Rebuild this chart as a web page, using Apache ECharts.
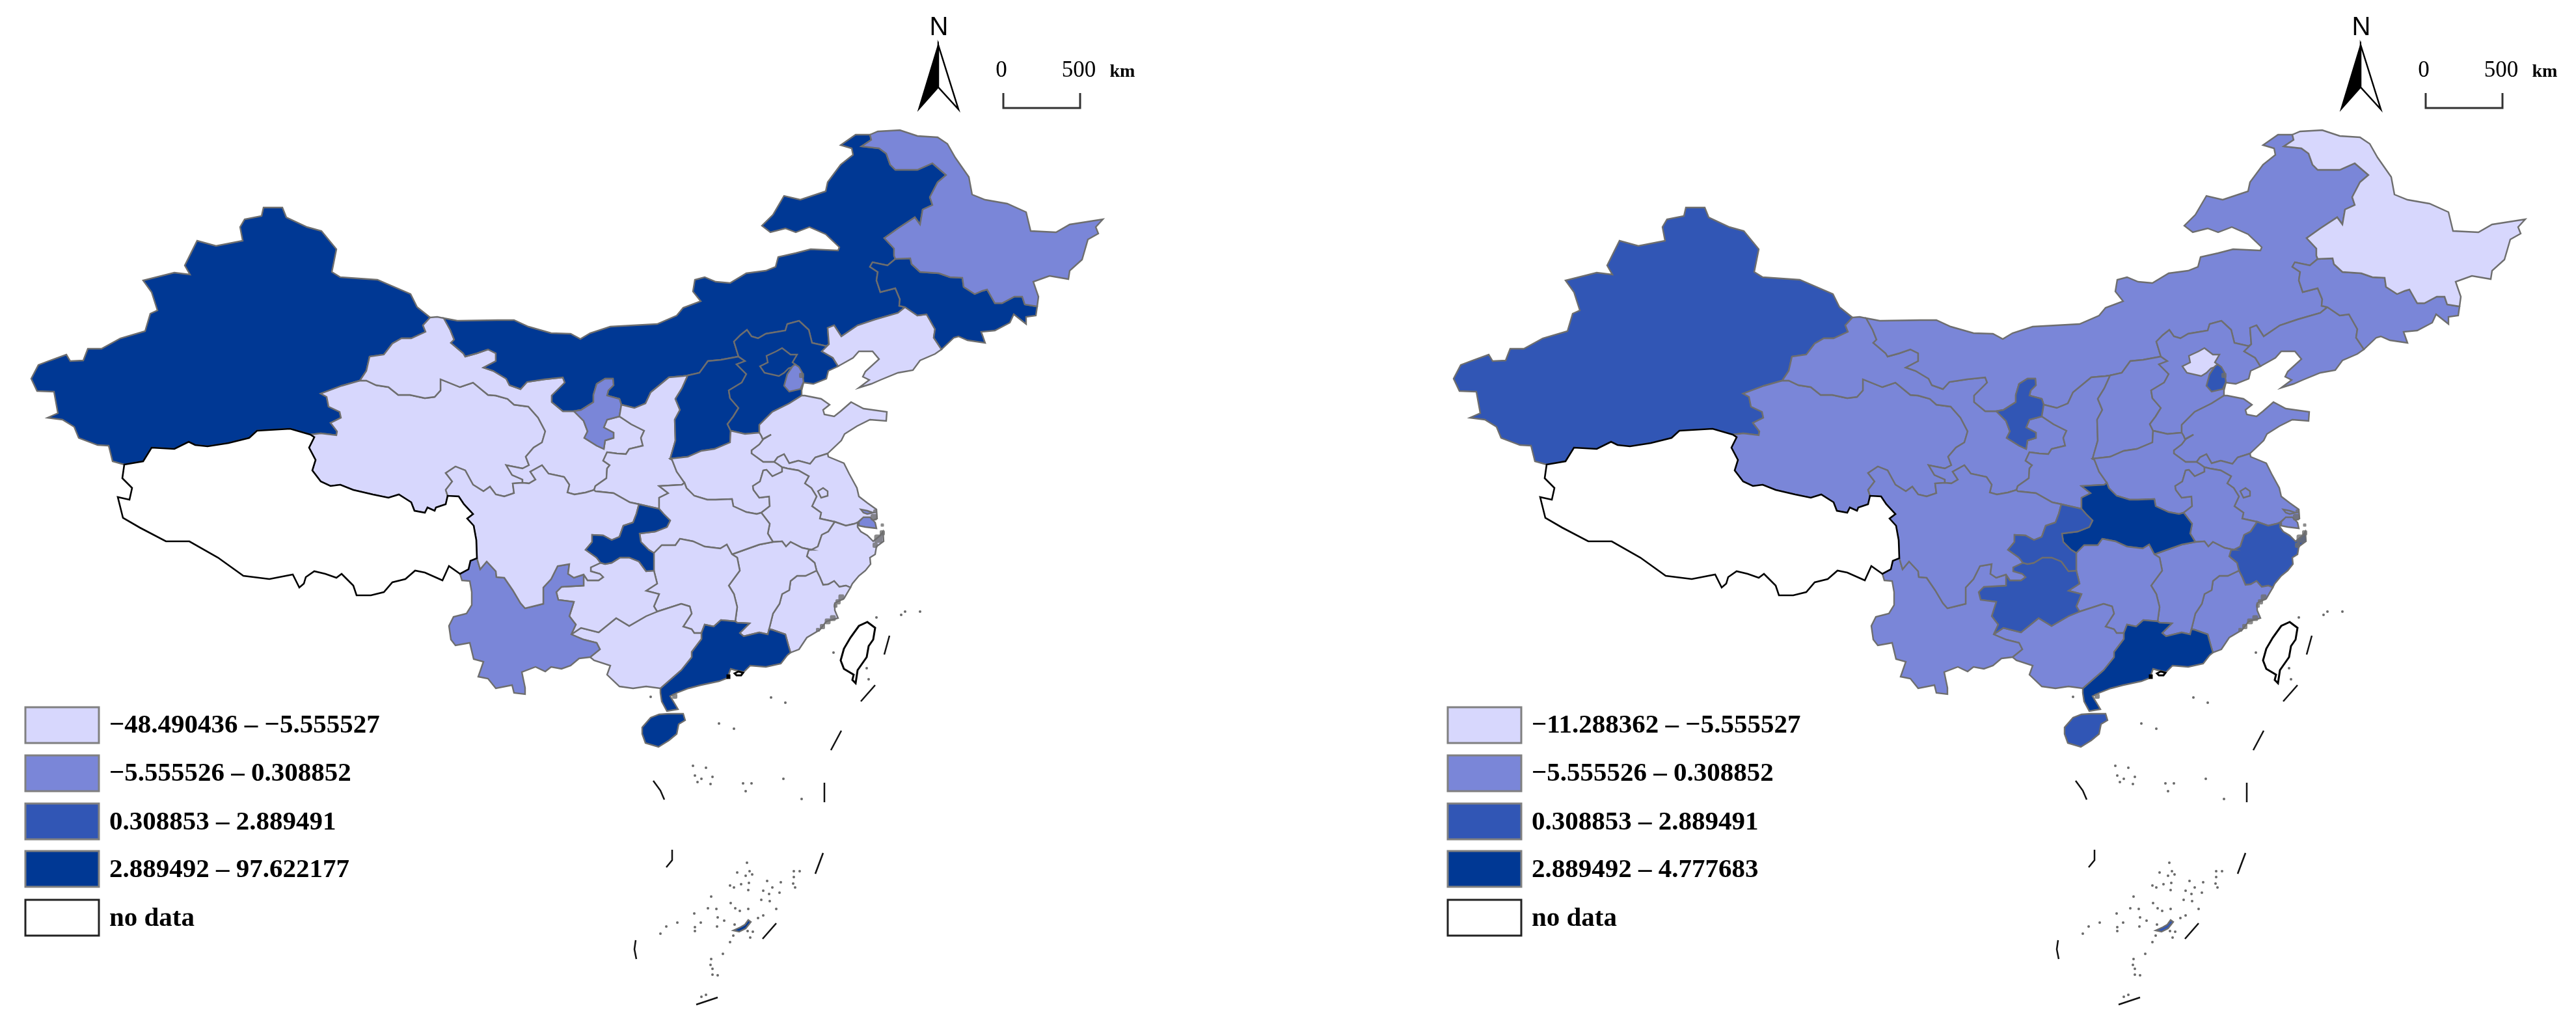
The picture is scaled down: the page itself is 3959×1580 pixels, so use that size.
<!DOCTYPE html>
<html>
<head>
<meta charset="utf-8">
<style>html,body{margin:0;padding:0;background:#fff}#chart{width:3959px;height:1580px}</style>
<script src="https://cdn.jsdelivr.net/npm/echarts@6/dist/echarts.min.js"></script>
</head>
<body>
<div id="chart"></div>
<script>
// class of each province on the two maps (0-3 = legend row, null = no data)
const provinces = ['Xinjiang','Qinghai','Gansu','Inner Mongolia','Ningxia','Shaanxi','Shanxi','Hebei','Beijing','Tianjin','Liaoning','Jilin','Heilongjiang','Shandong','Henan','Jiangsu','Shanghai','Anhui','Zhejiang','Fujian','Jiangxi','Hubei','Hunan','Guangdong','Guangxi','Hainan','Guizhou','Yunnan','Sichuan','Chongqing','Tibet','Taiwan','Hong Kong','Macau']
const classLeft  = [3,0,0,3,1,0,3,3,3,1,0,3,1,0,0,0,1,0,0,0,0,0,0,3,0,3,0,1,0,3,null,null,null,null]
const classRight = [2,1,1,1,2,1,1,1,0,2,1,1,0,1,1,1,1,1,2,1,1,3,1,3,1,2,2,1,1,2,null,null,null,null]

const classColors = ['#d7d7fd','#7a86d8','#3156b5','#003894']
const labelsLeft  = ['−48.490436 – −5.555527','−5.555526 – 0.308852','0.308853 – 2.889491','2.889492 – 97.622177','no data']
const labelsRight = ['−11.288362 – −5.555527','−5.555526 – 0.308852','0.308853 – 2.889491','2.889492 – 4.777683','no data']

// shared borders, in sheet units (y down), one arc per border so neighbours line up
const arcs = {
  xjN:[[191,714],[173,709],[167,685],[150,684],[121,673],[114,656],[96,645],[73,642],[89,635],[83,602],[57,601],[48,582],[59,561],[77,554],[102,545],[108,555],[128,554],[135,536],[156,536],[185,520],[223,509],[231,482],[242,477],[233,449],[220,431],[268,419],[292,422],[284,408],[303,370],[332,378],[373,370],[369,349],[376,337],[402,332],[405,319],[434,319],[440,334],[472,349],[494,355],[517,383],[510,418],[523,426],[580,430],[631,452],[641,472],[661,488]],
  xg:[[661,488],[650,500],[654,510],[632,520],[617,520],[603,528],[590,545],[568,548],[563,570],[553,585]],
  xq:[[553,585],[525,593],[493,605],[502,610],[505,625],[522,633],[524,642],[508,650],[518,663],[517,669],[493,666],[477,668]],
  xt:[[477,668],[446,659],[395,662],[383,673],[351,681],[319,686],[300,684],[290,679],[268,690],[233,688],[220,709],[191,714]],
  tq:[[688,762],[685,775],[670,780],[668,785],[657,780],[653,788],[637,785],[632,772],[613,760],[597,765],[573,760],[543,753],[523,745],[508,747],[493,740],[480,723],[485,707],[475,688],[483,672],[477,668]],
  ts:[[733,858],[732,830],[728,808],[718,797],[727,790],[713,775],[705,763],[688,762]],
  ty:[[707,882],[720,875],[723,862],[733,858]],
  tS:[[191,714],[188,735],[203,750],[199,768],[181,764],[189,796],[215,811],[255,832],[291,832],[335,857],[374,885],[414,890],[450,883],[460,903],[467,897],[470,887],[483,878],[500,882],[517,888],[525,882],[533,890],[543,900],[548,915],[570,915],[590,910],[603,895],[623,890],[638,877],[653,880],[680,892],[690,870],[707,882]],
  qs:[[688,762],[685,753],[695,740],[685,727],[700,717],[715,723],[727,745],[743,755],[753,748],[762,760],[775,763],[790,758],[788,743],[803,742]],
  gq:[[553,585],[563,585],[578,592],[597,595],[612,607],[630,607],[653,612],[668,610],[677,600],[677,583],[707,595],[727,588],[750,607],[762,608],[780,613],[790,622],[812,625],[827,642],[838,663],[833,680],[820,688],[808,702],[813,715],[803,720],[778,715],[787,730],[803,737],[803,742]],
  sg:[[803,742],[813,743],[823,737],[815,725],[833,715],[843,728],[867,733],[875,745],[872,757],[883,760],[900,757],[913,753]],
  gsn:[[913,753],[915,747],[932,735],[933,720],[937,715],[927,708],[933,695],[948,697],[962,698],[967,690],[988,685],[985,673],[990,662],[970,652],[952,640]],
  gn:[[882,632],[897,647],[903,663],[898,673],[917,685],[928,690],[930,677],[943,673],[943,665],[928,657],[933,645],[952,640]],
  nI:[[882,632],[893,630],[912,618],[912,607],[917,590],[930,582],[942,582],[943,592],[935,600],[933,608],[952,613],[955,622]],
  nS:[[955,622],[952,640]],
  gi0:[[661,488],[672,487],[682,489]],
  gi:[[682,489],[692,507],[698,522],[693,527],[712,543],[715,548],[733,543],[750,537],[762,543],[762,555],[743,565],[758,570],[778,582],[783,592],[800,598],[810,587],[837,583],[865,580],[868,588],[848,608],[848,618],[865,632],[882,632]],
  imN:[[682,489],[703,493],[765,492],[790,492],[812,502],[847,512],[877,513],[892,521],[907,512],[938,502],[1010,498],[1040,485],[1050,473],[1077,463],[1065,448],[1068,430],[1083,426],[1100,433],[1122,435],[1147,420],[1177,416],[1192,410],[1196,395],[1223,389],[1246,383],[1288,385],[1290,380],[1269,360],[1244,349],[1223,357],[1207,351],[1184,357],[1171,347],[1188,330],[1205,301],[1230,307],[1269,294],[1272,280],[1292,253],[1311,238],[1309,228],[1292,223],[1315,207],[1337,207]],
  ih:[[1337,207],[1339,215],[1324,225],[1351,228],[1362,236],[1368,253],[1376,261],[1410,261],[1433,251],[1454,269],[1441,280],[1429,303],[1433,315],[1418,322],[1414,345],[1406,334],[1380,351],[1359,366],[1374,382],[1374,393],[1376,398]],
  ij:[[1376,398],[1364,408],[1341,403],[1337,410],[1349,418],[1347,431],[1353,449],[1376,443],[1383,460],[1382,470],[1391,472]],
  il:[[1391,472],[1380,481],[1345,491],[1318,500],[1293,517],[1282,500],[1272,504],[1274,529]],
  ihb:[[1274,529],[1270,532],[1248,527],[1243,507],[1228,493],[1210,498],[1207,508],[1177,513],[1165,520],[1155,517],[1148,507],[1138,515],[1128,525],[1135,548]],
  isx:[[1135,548],[1108,553],[1088,555],[1075,573],[1057,577]],
  isn:[[955,622],[975,627],[992,620],[1000,603],[1028,580],[1050,578],[1057,577]],
  hlO:[[1337,207],[1349,202],[1383,200],[1410,209],[1441,211],[1456,221],[1468,242],[1489,272],[1494,299],[1514,307],[1548,313],[1577,326],[1584,355],[1623,357],[1644,345],[1695,337],[1684,349],[1688,359],[1672,368],[1663,399],[1644,416],[1642,429],[1613,424],[1588,433],[1596,456],[1594,471]],
  hj:[[1376,398],[1399,397],[1401,406],[1414,418],[1443,420],[1460,426],[1479,427],[1481,441],[1498,452],[1510,447],[1517,445],[1529,466],[1540,466],[1559,456],[1571,456],[1575,468],[1594,471]],
  jO:[[1594,471],[1592,485],[1577,487],[1577,498],[1558,483],[1552,496],[1529,508],[1508,510],[1514,527],[1487,523],[1473,517],[1466,519],[1447,537]],
  jl:[[1391,472],[1410,485],[1424,483],[1437,506],[1435,519],[1447,537]],
  hbl:[[1288,563],[1280,550],[1263,540],[1274,529]],
  lO:[[1288,563],[1311,550],[1320,540],[1341,540],[1351,552],[1330,571],[1326,579],[1336,584],[1320,596],[1339,590],[1353,584],[1380,573],[1403,569],[1414,554],[1437,544],[1447,537]],
  hbC:[[1288,563],[1273,570],[1270,582],[1250,590],[1235,588],[1232,600],[1232,608]],
  sh:[[1135,548],[1145,555],[1132,560],[1147,575],[1140,588],[1120,600],[1122,612],[1135,627],[1127,640],[1118,652],[1123,662]],
  hh:[[1123,662],[1145,667],[1167,665]],
  hs:[[1167,665],[1167,653],[1187,633],[1213,620],[1232,608]],
  sxh:[[1123,662],[1122,680],[1098,690],[1078,693],[1057,702],[1030,705]],
  ss:[[1057,577],[1048,597],[1038,613],[1045,630],[1037,645],[1038,677],[1030,705]],
  she:[[1030,705],[1033,707],[1040,725],[1052,742]],
  shb:[[1052,742],[1048,745],[1013,747],[1027,758],[1013,765],[1013,782]],
  scq:[[1013,782],[982,775]],
  ssn:[[913,753],[915,755],[943,758],[968,772],[982,775]],
  hsd:[[1167,665],[1170,670],[1172,675],[1185,668],[1173,675],[1167,683],[1155,692],[1155,697],[1173,710],[1190,710]],
  hj2:[[1190,710],[1195,713],[1202,718]],
  ha:[[1202,718],[1202,725],[1187,732],[1178,722],[1173,723],[1168,740],[1157,747],[1158,753],[1167,765],[1182,763],[1183,778],[1170,788]],
  hhb:[[1170,788],[1163,790],[1147,787],[1127,778],[1125,767],[1100,768],[1087,768],[1067,762],[1055,750],[1052,742]],
  sdO:[[1232,608],[1237,608],[1262,613],[1275,622],[1265,630],[1267,637],[1282,640],[1292,632],[1308,618],[1327,628],[1363,633],[1362,647],[1337,645],[1317,655],[1298,667],[1293,677],[1272,697]],
  sdj:[[1272,697],[1253,703],[1245,713],[1227,708],[1213,712],[1205,698],[1195,703],[1190,710]],
  jsO:[[1272,697],[1273,702],[1297,712],[1305,728],[1317,750],[1320,763],[1333,773],[1347,783],[1348,797],[1340,800],[1325,797],[1318,803]],
  jz:[[1283,802],[1300,808],[1313,805],[1318,803]],
  aj:[[1283,802],[1260,797],[1262,788],[1248,778],[1255,763],[1247,750],[1237,743],[1243,732],[1227,723],[1210,720],[1202,718]],
  hba:[[1170,788],[1183,805],[1180,820],[1188,833]],
  aJx:[[1188,833],[1202,832],[1208,840],[1215,833],[1233,842],[1247,845]],
  az:[[1247,845],[1257,840],[1263,822],[1273,817],[1283,802]],
  zO:[[1318,803],[1318,810],[1323,817],[1333,823],[1342,832],[1353,823],[1357,817],[1358,832],[1347,840],[1345,852],[1337,857],[1338,867],[1330,877],[1320,885],[1310,897],[1307,903]],
  zf:[[1307,903],[1300,900],[1290,902],[1282,893],[1273,898],[1265,899],[1260,887],[1255,877]],
  zj:[[1255,877],[1252,865],[1240,855],[1243,845],[1247,845]],
  fO:[[1215,1003],[1228,998],[1240,980],[1260,968],[1270,955],[1288,950],[1283,938],[1283,927],[1297,920],[1307,903]],
  fg:[[1182,967],[1187,968],[1207,975],[1212,993],[1215,1003]],
  jf:[[1255,877],[1238,885],[1225,885],[1215,893],[1213,907],[1202,913],[1198,928],[1188,943],[1182,967]],
  jg:[[1182,967],[1180,975],[1167,972],[1143,978],[1137,973],[1152,958],[1133,957],[1130,955]],
  hnj:[[1130,955],[1133,933],[1128,913],[1120,900],[1137,877],[1133,857],[1125,852]],
  hbj:[[1188,833],[1167,837],[1150,843],[1125,852]],
  hbh:[[1125,852],[1117,837],[1107,843],[1083,840],[1065,832],[1045,828],[1038,838],[1017,838],[1005,850]],
  chb:[[1013,782],[1020,790],[1030,800],[1025,810],[1007,817],[983,820],[985,833],[997,845],[1005,850]],
  chn:[[1005,850],[1005,877]],
  cg:[[1005,877],[993,878],[982,863],[967,857],[953,857],[940,865],[930,867],[923,865]],
  csi:[[923,865],[917,857],[900,845],[910,833],[910,822],[927,823],[940,830],[952,825],[958,808],[973,803],[978,790],[982,775]],
  sgz:[[923,865],[908,872],[908,878],[922,882],[927,887],[920,892],[903,892],[897,883]],
  sy:[[733,858],[738,875],[748,863],[762,878],[763,887],[775,888],[788,907],[800,927],[807,935],[827,930],[835,928],[835,903],[847,890],[857,870],[875,867],[873,882],[882,888],[897,883]],
  yz:[[897,883],[897,900],[863,902],[855,910],[858,922],[882,925],[875,947],[885,960],[878,975]],
  ggx:[[878,975],[893,965],[920,972],[947,950],[967,962],[993,947],[1010,940]],
  gh:[[1005,877],[1010,897],[993,908],[1013,913],[1005,932],[1010,940]],
  hgx:[[1010,940],[1047,928],[1060,932],[1063,943],[1050,963],[1063,967],[1067,973],[1078,973]],
  hg:[[1078,973],[1083,960],[1097,963],[1108,953],[1130,955]],
  gdO:[[1215,1003],[1210,1007],[1200,1020],[1177,1025],[1153,1023],[1143,1033],[1130,1030],[1123,1028],[1118,1042],[1105,1047],[1077,1053],[1058,1058],[1040,1065],[1030,1070],[1042,1090],[1025,1093],[1017,1078],[1015,1065],[1015,1058]],
  gg:[[1015,1058],[1047,1030],[1063,1010],[1063,1002],[1078,982],[1078,973]],
  gxO:[[907,1010],[913,1015],[938,1023],[933,1037],[952,1055],[973,1058],[993,1055],[1015,1058]],
  yg:[[878,975],[897,983],[917,988],[922,998],[907,1010]],
  yO:[[907,1010],[890,1012],[877,1023],[863,1028],[847,1025],[838,1032],[823,1025],[802,1033],[807,1057],[807,1067],[790,1065],[787,1053],[762,1058],[750,1043],[735,1040],[743,1017],[728,1013],[722,988],[700,992],[693,983],[690,962],[697,948],[717,943],[725,930],[725,910],[722,893],[710,892],[707,882]]
}

// which borders close each province; a leading - walks the arc backwards
const rings = {
  'Xinjiang':['xjN','xg','xq','xt'],
  'Qinghai':['gq','-qs','tq','-xq'],
  'Gansu':['gi0','gi','gn','-gsn','-sg','-gq','-xg'],
  'Inner Mongolia':['imN','ih','ij','il','ihb','isx','-isn','-nI','-gi'],
  'Ningxia':['nI','nS','-gn'],
  'Shaanxi':['isn','ss','she','shb','scq','-ssn','gsn','-nS'],
  'Shanxi':['sh','sxh','-ss','-isx'],
  'Hebei':['-ihb','-hbl','hbC','-hs','-hh','-sh'],
  'Liaoning':['il','-hbl','lO','-jl'],
  'Jilin':['hj','jO','-jl','-ij'],
  'Heilongjiang':['hlO','-hj','-ih'],
  'Shandong':['hs','sdO','sdj','-hsd'],
  'Henan':['hh','hsd','hj2','ha','hhb','-she','-sxh'],
  'Jiangsu':['-sdj','jsO','-jz','aj','-hj2'],
  'Anhui':['ha','hba','aJx','az','aj'],
  'Zhejiang':['jz','zO','zf','zj','az'],
  'Fujian':['-zf','-fO','-fg','-jf'],
  'Jiangxi':['aJx','-zj','jf','jg','hnj','-hbj'],
  'Hubei':['-hhb','hba','hbj','hbh','-chb','-shb'],
  'Hunan':['-hbh','-hnj','-hg','-hgx','-gh','-chn'],
  'Guangdong':['hg','-jg','fg','gdO','gg'],
  'Guangxi':['ggx','hgx','-gg','-gxO','-yg'],
  'Guizhou':['cg','sgz','yz','ggx','-gh'],
  'Yunnan':['sy','yz','yg','yO','ty'],
  'Sichuan':['ts','qs','sg','ssn','-csi','sgz','-sy'],
  'Chongqing':['-scq','chb','chn','cg','csi'],
  'Tibet':['-xt','-tq','-ts','-ty','-tS']
}

// provinces with no neighbour to share a border with, or with extra rings
const loops = {
  'Beijing':[[[1202,535],[1215,545],[1225,545],[1218,557],[1225,562],[1212,566],[1205,573],[1197,578],[1175,573],[1168,563],[1180,557],[1178,547],[1193,540]]],
  'Tianjin':[[[1222,560],[1228,564],[1233,573],[1235,587],[1230,598],[1213,602],[1205,593],[1210,575],[1218,563]]],
  'Shanghai':[[[1320,802],[1327,795],[1337,795],[1345,803],[1347,812],[1330,810],[1320,808]],[[1323,783],[1333,785],[1342,788],[1333,790],[1327,788]]],
  'Hainan':[[[1027,1097],[1050,1097],[1053,1107],[1043,1113],[1040,1128],[1028,1138],[1012,1148],[992,1142],[987,1128],[987,1118],[1000,1103],[1013,1098]],[[1127,1430],[1138,1425],[1145,1421],[1150,1414],[1154,1417],[1146,1427],[1136,1432]]],
  'Taiwan':[[[1333,956],[1345,965],[1342,983],[1335,993],[1332,1010],[1318,1030],[1315,1050],[1310,1045],[1312,1037],[1297,1028],[1292,1015],[1297,997],[1307,980],[1320,962]]],
  'Hong Kong':[[[1129,1035],[1135,1032],[1142,1034],[1139,1038],[1132,1038]]],
  'Macau':[[[1118,1038],[1121,1038],[1121,1042],[1118,1042]]]
}
const jiangsuLake = [[1257,755],[1265,750],[1272,755],[1272,762],[1262,765]]

// dashed sea border pieces and small islands
const seaDashes = [
  [[1345,1053],[1323,1078]],[[1293,1123],[1277,1153]],[[1267,1203],[1267,1233]],[[1367,977],[1359,1006]],
  [[1265,1311],[1253,1343]],[[1193,1419],[1172,1443]],[[1103,1533],[1070,1544]],[[977,1445],[975,1459],[978,1474]],
  [[1033,1306],[1033,1322],[1024,1333]],[[1004,1200],[1015,1215],[1021,1229]]
]
const islands = [[1347,949],[1385,945],[1391,940],[1414,940],[1281,1003],[1332,1027],[1335,1044],[1185,1072],[1207,1080],[1105,1112],[1128,1120],[1000,1071],
  [1065,1177],[1085,1180],[1068,1192],[1072,1202],[1078,1197],[1095,1194],[1092,1205],[1142,1204],[1155,1204],[1146,1216],[1204,1197],[1232,1228],
  [1148,1326],[1133,1341],[1146,1346],[1152,1339],[1156,1344],[1122,1361],[1128,1364],[1139,1359],[1151,1357],[1150,1368],[1179,1354],[1187,1364],[1200,1356],
  [1220,1339],[1229,1339],[1220,1348],[1219,1358],[1222,1364],[1173,1369],[1182,1374],[1198,1372],[1170,1383],[1183,1385],[1193,1397],[1093,1378],[1123,1388],
  [1130,1396],[1137,1400],[1150,1397],[1088,1396],[1101,1397],[1067,1404],[1103,1410],[1113,1415],[1165,1411],[1173,1407],[1102,1424],[1129,1421],[1077,1418],
  [1068,1425],[1068,1431],[1041,1418],[1024,1424],[1015,1435],[1149,1431],[1157,1432],[1153,1441],[1127,1438],[1122,1448],[1111,1466],[1093,1474],[1092,1483],
  [1095,1489],[1095,1498],[1103,1499],[1085,1529],[1078,1532]]
// clusters of coastal islets that read as grey blobs: x, y, size
const islets = [[1350,828,13],[1356,819,8],[1345,838,8],[1343,795,10],[1345,786,6],[1232,577,8],[1293,918,9],[1288,925,8],[1284,931,6],[1280,950,9],[1272,955,9],[1264,963,8],[1257,968,6],[1037,1070,8],[1356,807,5]]

const rightOffset = 2186
const flip = p => [p[0], -p[1]]

function buildRing(list){
  let pts = []
  list.forEach(k => {
    let a = k[0] == '-' ? arcs[k.slice(1)].slice().reverse() : arcs[k]
    a.forEach(p => {
      let last = pts[pts.length-1]
      if(!last || last[0] != p[0] || last[1] != p[1]) pts.push(p)
    })
  })
  return pts
}

function closeRing(pts){ return pts.concat([pts[0]]).map(flip) }

let features = provinces.map(name => {
  let polys = []
  if(rings[name]) polys.push([closeRing(buildRing(rings[name]))])
  if(loops[name]) loops[name].forEach(r => polys.push([closeRing(r)]))
  if(name == 'Jiangsu') polys.push([closeRing(jiangsuLake)])
  return {type:'Feature', properties:{name:name}, geometry:{type:'MultiPolygon', coordinates:polys}}
})

// the map is placed by its own extent, so one map unit is one page pixel
let minX=1e9, maxX=-1e9, minY=1e9, maxY=-1e9
features.forEach(f => f.geometry.coordinates.forEach(poly => poly[0].forEach(p => {
  minX=Math.min(minX,p[0]); maxX=Math.max(maxX,p[0])
  minY=Math.min(minY,-p[1]); maxY=Math.max(maxY,-p[1])
})))

echarts.registerMap('sheet', {type:'FeatureCollection', features:features})

function geoOption(ox){
  return {
    map:'sheet', roam:false, silent:true, aspectScale:1,
    left:ox+minX, top:minY, width:maxX-minX, height:maxY-minY,
    label:{show:false},
    itemStyle:{areaColor:'#fff', borderColor:'#6e6e6e', borderWidth:2.4},
    emphasis:{disabled:true},
    regions:['Tibet','Taiwan','Hong Kong','Macau'].map(n => ({name:n, itemStyle:{areaColor:'#fff', borderColor:'#000', borderWidth:n=='Tibet'?2.6:3}}))
  }
}

function seriesFor(geoIndex, classes){
  return [
    {type:'map', geoIndex:geoIndex, data:provinces.map((n,i) => ({name:n, value:classes[i]==null?NaN:classes[i]}))},
    {type:'lines', coordinateSystem:'geo', geoIndex:geoIndex, polyline:true, silent:true, z:5,
      lineStyle:{color:'#111', width:2.5, opacity:1},
      data:seaDashes.map(d => ({coords:d.map(flip)}))},
    {type:'scatter', coordinateSystem:'geo', geoIndex:geoIndex, silent:true, z:5, symbolSize:4,
      itemStyle:{color:'#444'}, data:islands.map(flip)},
    {type:'scatter', coordinateSystem:'geo', geoIndex:geoIndex, silent:true, z:5, symbol:'roundRect',
      symbolSize:v => v[2], itemStyle:{color:'#6e6e6e'},
      data:islets.map(p => [p[0],-p[1],p[2]])}
  ]
}

function pieces(){
  return classColors.map((c,i) => ({value:i, color:c}))
}

const rowTops = [1087,1161,1235,1308,1383]
const rowMids = [1115,1189.5,1264.5,1337,1412]

function decor(ox, labels){
  let out = []
  labels.forEach((t,i) => {
    out.push({type:'rect', shape:{x:ox+39,y:rowTops[i],width:113,height:55},
      style:{fill:i<4?classColors[i]:'#fff', stroke:i<4?'#808080':'#222', lineWidth:3}})
    out.push({type:'text', x:ox+168, y:rowMids[i],
      style:{text:t, font:'bold 41px "Liberation Serif"', fill:'#000', verticalAlign:'middle'}})
  })
  // north arrow and scale bar
  out.push({type:'text', x:ox+1443, y:43, style:{text:'N', font:'40px "Liberation Sans"', fill:'#000', align:'center', verticalAlign:'middle'}})
  out.push({type:'polygon', shape:{points:[[ox+1442,69],[ox+1473,168],[ox+1442,134]]}, style:{fill:'#fff', stroke:'#000', lineWidth:2.5}})
  out.push({type:'polygon', shape:{points:[[ox+1442,69],[ox+1412,168],[ox+1442,134]]}, style:{fill:'#000', stroke:'#000', lineWidth:2}})
  out.push({type:'polyline', shape:{points:[[ox+1542,143],[ox+1542,166],[ox+1660,166],[ox+1660,143]]}, style:{fill:'none', stroke:'#333', lineWidth:3}})
  out.push({type:'text', x:ox+1539, y:109, style:{text:'0', font:'35px "Liberation Serif"', fill:'#000', align:'center', verticalAlign:'middle'}})
  out.push({type:'text', x:ox+1658, y:109, style:{text:'500', font:'35px "Liberation Serif"', fill:'#000', align:'center', verticalAlign:'middle'}})
  out.push({type:'text', x:ox+1725, y:111, style:{text:'km', font:'bold 28px "Liberation Serif"', fill:'#000', align:'center', verticalAlign:'middle'}})
  return out
}

let myChart = echarts.init(document.getElementById('chart'))
myChart.setOption({
  backgroundColor:'#fff',
  animation:false,
  geo:[geoOption(0), geoOption(rightOffset)],
  visualMap:[
    {type:'piecewise', show:false, seriesIndex:0, pieces:pieces()},
    {type:'piecewise', show:false, seriesIndex:4, pieces:pieces()}
  ],
  series:seriesFor(0,classLeft).concat(seriesFor(1,classRight)),
  graphic:decor(0,labelsLeft).concat(decor(rightOffset,labelsRight)).map(e => Object.assign(e,{z:20,silent:true}))
})
</script>
</body>
</html>
